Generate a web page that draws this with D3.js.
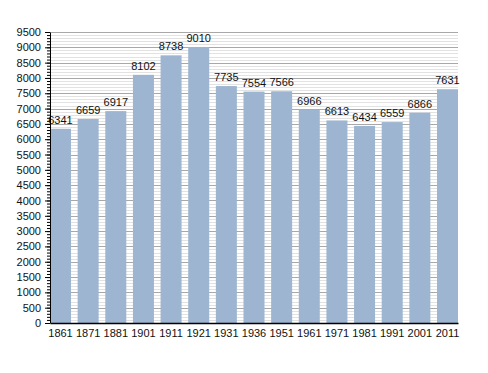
<!DOCTYPE html>
<html>
<head>
<meta charset="utf-8">
<script src="https://cdn.jsdelivr.net/npm/d3@7"></script>
<style>
  body { margin: 0; background: #fff; }
  text { font-family: "Liberation Sans", Arial, sans-serif; }
</style>
</head>
<body>
<script>
'use strict';

// chart data
const years = ["1861", "1871", "1881", "1901", "1911", "1921", "1931", "1936", "1951", "1961", "1971", "1981", "1991", "2001", "2011"];
const population = [6341, 6659, 6917, 8102, 8738, 9010, 7735, 7554, 7566, 6966, 6613, 6434, 6559, 6866, 7631];
const yTicks = d3.range(0, 9501, 500);
const yMinorTicks = d3.range(0, 9501, 100);

const width = 488, height = 373;
const margin = { left: 50, right: 30, top: 32, bottom: 50 };

const svg = d3.select('body').append('svg')
  .attr('width', width)
  .attr('height', height);

const xScale = d3.scaleBand()
  .domain(years)
  .range([margin.left, width - margin.right])
  .paddingInner(0.24)
  .paddingOuter(0);

const yScale = d3.scaleLinear()
  .domain([0, 9500])
  .range([height - margin.bottom, margin.top]);

// grid: light minor lines every 100, darker major every 500
svg.append('g')
  .selectAll('line')
  .data(yMinorTicks.filter(d => d % 500 !== 0))
  .enter().append('line')
  .attr('x1', margin.left).attr('x2', width - margin.right)
  .attr('y1', d => Math.round(yScale(d)) + 0.5)
  .attr('y2', d => Math.round(yScale(d)) + 0.5)
  .attr('stroke', '#e2e2e2');

svg.append('g')
  .selectAll('line')
  .data(yTicks.filter(d => d > 0))
  .enter().append('line')
  .attr('x1', margin.left).attr('x2', width - margin.right)
  .attr('y1', d => Math.round(yScale(d)) + 0.5)
  .attr('y2', d => Math.round(yScale(d)) + 0.5)
  .attr('stroke', '#a8a8a8');

// bars
svg.append('g')
  .selectAll('rect')
  .data(population)
  .enter().append('rect')
  .attr('x', (d, i) => xScale(years[i]))
  .attr('y', d => yScale(d))
  .attr('width', xScale.bandwidth())
  .attr('height', d => yScale(0) - yScale(d))
  .attr('fill', '#9db5d0');

// value labels
svg.append('g')
  .selectAll('text')
  .data(population)
  .enter().append('text')
  .attr('x', (d, i) => xScale(years[i]) + xScale.bandwidth() / 2)
  .attr('y', d => yScale(d) - 5)
  .attr('text-anchor', 'middle')
  .style('font-size', '11px')
  .attr('fill', '#111')
  .text(d => d);

// y axis with minor ticks
const yMinor = d3.axisLeft(yScale).tickValues(yMinorTicks).tickSize(3).tickFormat('');
svg.append('g')
  .attr('transform', `translate(${margin.left},0)`)
  .call(yMinor)
  .call(g => g.select('.domain').remove());

const yAxis = d3.axisLeft(yScale).tickValues(yTicks).tickFormat(d3.format('d'))
  .tickSize(5).tickPadding(4).tickSizeOuter(0);
svg.append('g')
  .attr('transform', `translate(${margin.left},0)`)
  .call(yAxis)
  .call(g => g.selectAll('text').style('font-size', '11px').attr('fill', '#111').style('font-family', '"Liberation Sans", Arial, sans-serif'));

// x axis
const xAxis = d3.axisBottom(xScale).tickSize(0).tickPadding(6).tickSizeOuter(0);
svg.append('g')
  .attr('transform', `translate(0,${height - margin.bottom})`)
  .call(xAxis)
  .call(g => g.selectAll('text').style('font-size', '11px').attr('fill', '#111').style('font-family', '"Liberation Sans", Arial, sans-serif'))
  .call(g => g.select('.domain').attr('stroke-width', 1.5));
</script>
</body>
</html>
